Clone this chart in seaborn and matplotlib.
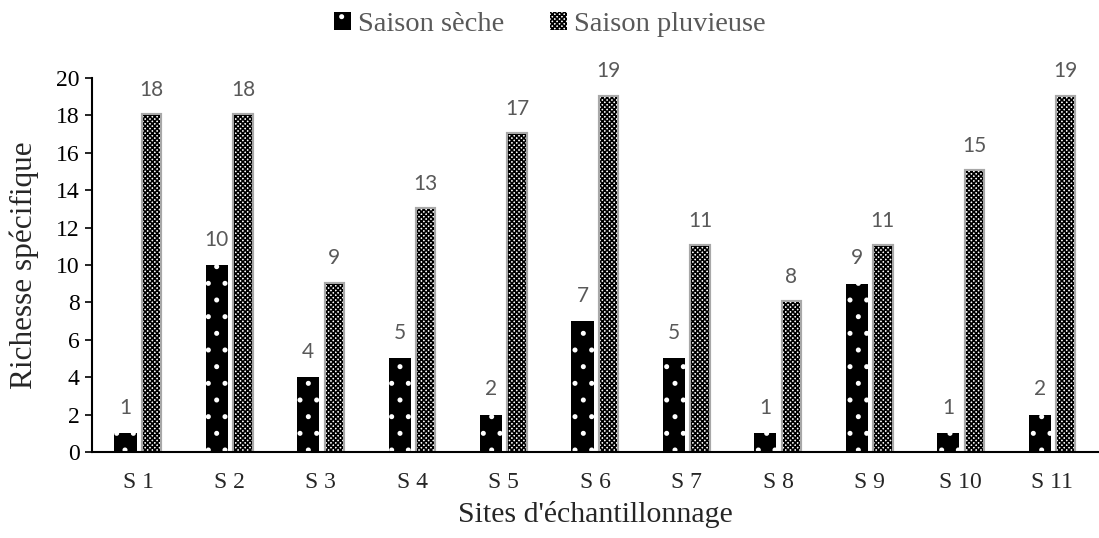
import pandas as pd
import matplotlib
matplotlib.use("Agg")
import matplotlib.pyplot as plt
import matplotlib.patheffects as pe
from matplotlib.patches import Patch
import seaborn as sns

# données
sites = ["S 1", "S 2", "S 3", "S 4", "S 5", "S 6", "S 7", "S 8", "S 9", "S 10", "S 11"]
saison_seche = [1, 10, 4, 5, 2, 7, 5, 1, 9, 1, 2]
saison_pluvieuse = [18, 18, 9, 13, 17, 19, 11, 8, 11, 15, 19]
saisons = ["Saison sèche", "Saison pluvieuse"]

df = pd.DataFrame({
    "Site": sites * 2,
    "Saison": [saisons[0]] * len(sites) + [saisons[1]] * len(sites),
    "Richesse": saison_seche + saison_pluvieuse,
})

sns.set_style("white")
plt.rcParams["font.family"] = ["Liberation Serif", "DejaVu Serif"]
plt.rcParams["hatch.linewidth"] = 1.2

fig, ax = plt.subplots(figsize=(10.99, 5.38), dpi=100)
fig.subplots_adjust(left=0.084, right=0.999, top=0.855, bottom=0.16)

sns.barplot(data=df, x="Site", y="Richesse", hue="Saison", order=sites,
            hue_order=saisons, width=0.55, gap=0.12, legend=False, ax=ax)

# style des barres : noir pointillé / quadrillé avec halo gris
seche_bars, pluie_bars = ax.containers
for bar in seche_bars:
    bar.set_facecolor("black")
    bar.set_edgecolor("white")
    bar.set_linewidth(0)
    bar.set_hatch(".")
for bar in pluie_bars:
    # barres pluvieuses un peu plus étroites
    cx = bar.get_x() + bar.get_width() / 2
    bar.set_width(0.19)
    bar.set_x(cx - 0.095 + 0.01)
    bar.set_facecolor("white")
    bar.set_edgecolor("black")
    bar.set_linewidth(0)
    bar.set_hatch("xxxxxxx")
    bar.set_path_effects([pe.withStroke(linewidth=3, foreground="#a8a8a8")])

for cont in ax.containers:
    ax.bar_label(cont, padding=11, fontsize=15, color="#595959", family="Lato")

ax.set_ylim(0, 20)
ax.set_yticks(range(0, 21, 2))
ax.set_xlim(-0.5, len(sites) - 0.5)
ax.tick_params(axis="y", which="both", left=True, length=5, width=1.2,
               labelsize=17, pad=4, colors="black")
ax.tick_params(axis="x", bottom=False, labelsize=17, pad=11)
for s in ["top", "right"]:
    ax.spines[s].set_visible(False)
for s in ["left", "bottom"]:
    ax.spines[s].set_color("black")
    ax.spines[s].set_linewidth(1.5)

ax.set_xlabel("Sites d'échantillonnage", fontsize=21.5, labelpad=6)
ax.set_ylabel("Richesse spécifique", fontsize=22.5, labelpad=12)

handles = [
    Patch(facecolor="black", edgecolor="white", linewidth=0, hatch="."),
    Patch(facecolor="white", edgecolor="black", linewidth=0, hatch="xxxxxxx"),
]
fig.legend(handles, saisons, loc="center", bbox_to_anchor=(0.5, 0.955), ncol=2,
           frameon=False, fontsize=20.5, labelcolor="#595959", handlelength=0.6,
           handleheight=0.6, handletextpad=0.25, columnspacing=1.6)

fig.savefig("out.png", dpi=100)
